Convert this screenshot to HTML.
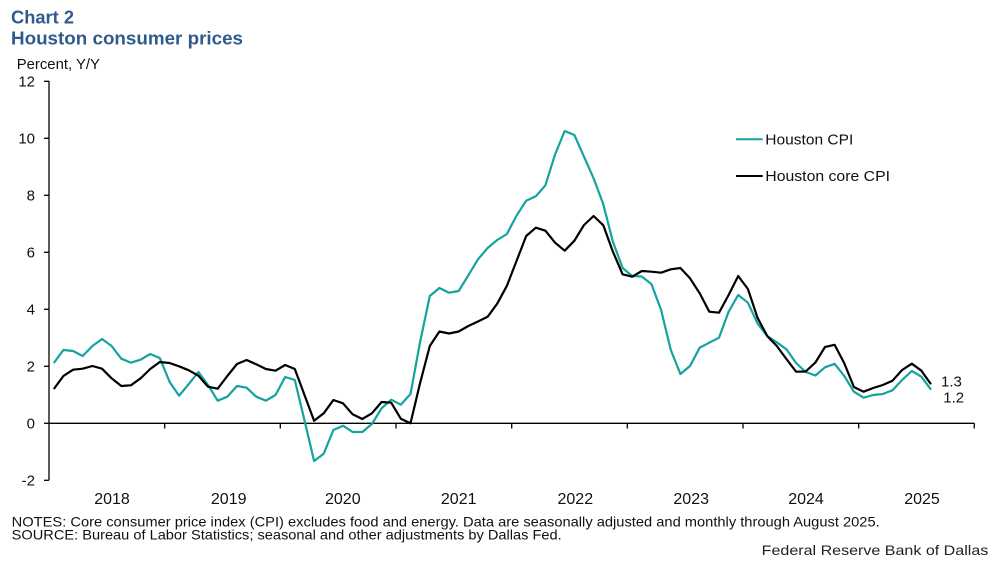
<!DOCTYPE html>
<html>
<head>
<meta charset="utf-8">
<style>
  html, body { margin: 0; padding: 0; background: #ffffff; }
  svg { display: block; }
  text { font-family: "Liberation Sans", Arial, sans-serif; }
</style>
</head>
<body>
<svg width="998" height="565" viewBox="0 0 998 565" xmlns="http://www.w3.org/2000/svg">
  <rect x="0" y="0" width="998" height="565" fill="#ffffff"/>

  <!-- Titles -->
  <text x="11" y="23.3" font-size="18.5" font-weight="bold" fill="#2f5b8c" textLength="63" lengthAdjust="spacingAndGlyphs">Chart 2</text>
  <text x="11" y="44.3" font-size="18.5" font-weight="bold" fill="#2f5b8c" textLength="232" lengthAdjust="spacingAndGlyphs">Houston consumer prices</text>
  <text x="16.7" y="69" font-size="15" fill="#111" textLength="83.3" lengthAdjust="spacingAndGlyphs">Percent, Y/Y</text>

  <!-- Y axis -->
  <g stroke="#000" stroke-width="1.3" fill="none">
    <line x1="49" y1="81" x2="49" y2="480.3"/>
    <line x1="44" y1="81.3" x2="49" y2="81.3"/>
    <line x1="44" y1="138.3" x2="49" y2="138.3"/>
    <line x1="44" y1="195.3" x2="49" y2="195.3"/>
    <line x1="44" y1="252.3" x2="49" y2="252.3"/>
    <line x1="44" y1="309.3" x2="49" y2="309.3"/>
    <line x1="44" y1="366.3" x2="49" y2="366.3"/>
    <line x1="44" y1="423.3" x2="49" y2="423.3"/>
    <line x1="44" y1="480.3" x2="49" y2="480.3"/>
    <!-- zero line -->
    <line x1="49" y1="423.3" x2="974.3" y2="423.3"/>
    <!-- x ticks -->
    <line x1="164.7" y1="423.3" x2="164.7" y2="428.5"/>
    <line x1="280.3" y1="423.3" x2="280.3" y2="428.5"/>
    <line x1="396" y1="423.3" x2="396" y2="428.5"/>
    <line x1="511.7" y1="423.3" x2="511.7" y2="428.5"/>
    <line x1="627.3" y1="423.3" x2="627.3" y2="428.5"/>
    <line x1="743" y1="423.3" x2="743" y2="428.5"/>
    <line x1="858.7" y1="423.3" x2="858.7" y2="428.5"/>
    <line x1="974.3" y1="423.3" x2="974.3" y2="428.5"/>
  </g>

  <!-- Y tick labels -->
  <g font-size="15" fill="#111" text-anchor="end">
    <text x="35" y="86.7">12</text>
    <text x="35" y="143.7">10</text>
    <text x="35" y="200.7">8</text>
    <text x="35" y="257.7">6</text>
    <text x="35" y="314.7">4</text>
    <text x="35" y="371.7">2</text>
    <text x="35" y="428.7">0</text>
    <text x="35" y="485.7">-2</text>
  </g>

  <!-- X labels -->
  <g font-size="16" fill="#111" text-anchor="middle">
    <text x="112" y="504">2018</text>
    <text x="228.7" y="504">2019</text>
    <text x="342.8" y="504">2020</text>
    <text x="458.7" y="504">2021</text>
    <text x="575.3" y="504">2022</text>
    <text x="691.2" y="504">2023</text>
    <text x="806" y="504">2024</text>
    <text x="922" y="504">2025</text>
  </g>

  <!-- Series: Houston CPI (teal) -->
  <polyline fill="none" stroke="#14a39e" stroke-width="2.2" stroke-linejoin="round" points="53.8,363 63.4,350 73.1,351 82.7,356 92.4,346 102,339 111.6,346 121.3,358.7 130.9,362.7 140.6,359.7 150.2,354 159.8,358 169.5,381.7 179.1,395.7 188.8,384 198.4,372 208,385 217.7,400.7 227.3,396.7 237,386 246.6,387.7 256.2,396.7 265.9,400.7 275.5,395 285.2,377 294.8,380 304.4,420 314.1,461 323.7,453.7 333.4,430 343,425.7 352.6,432 362.3,432 371.9,424 381.6,408.3 391.2,399.7 400.8,404.7 410.5,394 420.1,342 429.8,296 439.4,288 449,292.7 458.7,291 468.3,275.3 478,259.3 487.6,248 497.2,240 506.9,234 516.5,215.7 526.2,200.7 535.8,196.3 545.4,185.3 555.1,154.3 564.7,131 574.4,135 584,156.7 593.6,178.3 603.3,204.3 612.9,241.7 622.6,268 632.2,276 641.8,276.5 651.5,284.2 661.1,310 670.8,350 680.4,374 690,366 699.7,347.7 709.3,342.7 719,337.7 728.6,311.7 738.2,295 747.9,302.7 757.5,323.3 767.2,336 776.8,342.3 786.4,349.3 796.1,363 805.7,372 815.4,375.5 825,367.3 834.6,363.8 844.3,376 853.9,391.7 863.6,397.7 873.2,395 882.8,394 892.5,390.3 902.1,380 911.8,371 921.4,376.7 931,389.7"/>

  <!-- Series: Houston core CPI (black) -->
  <polyline fill="none" stroke="#000000" stroke-width="2.2" stroke-linejoin="round" points="53.8,389 63.4,376 73.1,369.7 82.7,368.7 92.4,366 102,368.7 111.6,378.3 121.3,386 130.9,385.3 140.6,378.3 150.2,369 159.8,362 169.5,363 179.1,366.3 188.8,370.3 198.4,375.7 208,386.7 217.7,388.7 227.3,376 237,364 246.6,360 256.2,364.3 265.9,369 275.5,370.7 285.2,365 294.8,369 304.4,394.7 314.1,420.7 323.7,413.3 333.4,400 343,403.3 352.6,414.3 362.3,419 371.9,413.3 381.6,402 391.2,402.7 400.8,418.7 410.5,423.3 420.1,383 429.8,346 439.4,331.5 449,333.5 458.7,331.5 468.3,326 478,321.5 487.6,316.8 497.2,303.7 506.9,285.8 516.5,261 526.2,236 535.8,227.7 545.4,230.7 555.1,242.7 564.7,250.7 574.4,240.7 584,225 593.6,216 603.3,225.3 612.9,251.7 622.6,274.3 632.2,276.7 641.8,271 651.5,271.7 661.1,272.7 670.8,269.3 680.4,268 690,278.3 699.7,293.3 709.3,311.7 719,312.7 728.6,295 738.2,276 747.9,289 757.5,317.7 767.2,336 776.8,346 786.4,359 796.1,371.7 805.7,371.5 815.4,362.5 825,347 834.6,344.8 844.3,363.3 853.9,387 863.6,391.7 873.2,388 882.8,385 892.5,380.7 902.1,370 911.8,363.7 921.4,370.7 931,384.3"/>

  <!-- End labels -->
  <text x="941" y="386.7" font-size="15" fill="#111">1.3</text>
  <text x="943.3" y="402.7" font-size="15" fill="#111">1.2</text>

  <!-- Legend -->
  <line x1="736" y1="139.3" x2="762.7" y2="139.3" stroke="#14a39e" stroke-width="2"/>
  <text x="765.3" y="144.3" font-size="15" fill="#111" textLength="88" lengthAdjust="spacingAndGlyphs">Houston CPI</text>
  <line x1="736" y1="176" x2="762.7" y2="176" stroke="#000" stroke-width="2"/>
  <text x="765.3" y="181" font-size="15" fill="#111" textLength="124.7" lengthAdjust="spacingAndGlyphs">Houston core CPI</text>

  <!-- Notes -->
  <text x="11.7" y="526.5" font-size="14" fill="#111" textLength="868" lengthAdjust="spacingAndGlyphs">NOTES: Core consumer price index (CPI) excludes food and energy. Data are seasonally adjusted and monthly through August 2025.</text>
  <text x="11.7" y="539.5" font-size="14" fill="#111" textLength="550" lengthAdjust="spacingAndGlyphs">SOURCE: Bureau of Labor Statistics; seasonal and other adjustments by Dallas Fed.</text>

  <!-- Footer -->
  <text x="761.7" y="555" font-size="14" fill="#222" textLength="226.6" lengthAdjust="spacingAndGlyphs">Federal Reserve Bank of Dallas</text>
</svg>
</body>
</html>
